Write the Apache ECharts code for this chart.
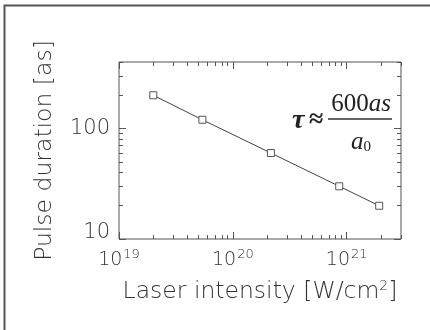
<!DOCTYPE html>
<html>
<head>
<meta charset="utf-8">
<script src="https://cdn.jsdelivr.net/npm/echarts@6/dist/echarts.min.js"></script>
<style>
  html, body { margin: 0; padding: 0; background: #fff; }
  #chart { width: 430px; height: 330px; }
</style>
</head>
<body>
<div id="chart"></div>
<script>
// laser intensity [W/cm2] and pulse duration [as]
const intensity = [2.0e19, 5.4e19, 2.16e20, 8.6e20, 1.93e21]
const duration = [200, 120, 60, 30, 20]
// axis ticks
const xMajor = [1e19, 1e20, 1e21]
const yMajor = [10, 100]
const xRange = [1e19, 3e21]
const yRange = [10, 400]

// minor ticks 2..9 in every decade
const minorTicks = (range) => {
  const out = []
  for (let p = Math.floor(Math.log10(range[0])); p <= Math.ceil(Math.log10(range[1])); p++) {
    for (let m = 2; m <= 9; m++) {
      const v = m * Math.pow(10, p)
      if (v > range[0] && v <= range[1] * 1.0001) out.push(v)
    }
  }
  return out
}
const xMinor = minorTicks(xRange)
const yMinor = minorTicks(yRange)

const FONT = 'DejaVu Sans'
const TXT = '#333'
const AX = '#555'

const chart = echarts.init(document.getElementById('chart'))

// 一个坐标轴 = 主刻度 + 次刻度两层
const xAxisOf = (pos, ticks, len, withLabel) => ({
  type: 'log',
  position: pos,
  min: xRange[0],
  max: xRange[1],
  axisLine: { show: false },
  splitLine: { show: false },
  axisTick: { show: true, inside: true, length: len, customValues: ticks, lineStyle: { color: AX, width: 1 } },
  axisLabel: withLabel ? {
    show: true,
    customValues: ticks,
    margin: 9,
    color: TXT,
    fontFamily: FONT,
    fontWeight: 200,
    fontSize: 19,
    formatter: (v) => '10{sup|' + Math.round(Math.log10(v)) + '}',
    rich: {
      sup: { fontSize: 13, fontFamily: FONT, fontWeight: 200, color: TXT, padding: [0, 0, 11, 1] }
    }
  } : { show: false },
  name: withLabel ? 'Laser intensity [W/cm{sup|2}]' : '',
  nameLocation: 'middle',
  nameGap: 40,
  nameTextStyle: {
    color: TXT, fontFamily: FONT, fontWeight: 200, fontSize: 23.5,
    rich: { sup: { fontSize: 14, fontFamily: FONT, fontWeight: 200, color: TXT, padding: [0, 0, 12, 0] } }
  }
})

const yAxisOf = (pos, ticks, len, withLabel) => ({
  type: 'log',
  position: pos,
  min: yRange[0],
  max: yRange[1],
  axisLine: { show: false },
  splitLine: { show: false },
  axisTick: { show: true, inside: true, length: len, customValues: ticks, lineStyle: { color: AX, width: 1 } },
  axisLabel: withLabel ? {
    show: true,
    customValues: ticks,
    margin: 9,
    color: TXT,
    fontFamily: FONT,
    fontWeight: 200,
    fontSize: 21,
    formatter: (v) => (v === 10 ? '{lo|10}' : String(v)),
    rich: {
      lo: { fontSize: 21, fontFamily: FONT, fontWeight: 200, color: TXT, padding: [0, 0, 12, 0] }
    }
  } : { show: false },
  name: withLabel ? 'Pulse duration [as]' : '',
  nameLocation: 'middle',
  nameRotate: 90,
  nameGap: 62,
  nameTextStyle: { color: TXT, fontFamily: FONT, fontWeight: 200, fontSize: 23.5 }
})

const option = {
  animation: false,
  backgroundColor: '#fff',
  grid: {
    left: 119,
    right: 29,
    top: 62,
    bottom: 91,
    show: true,
    borderColor: AX,
    borderWidth: 1
  },
  xAxis: [
    xAxisOf('bottom', xMajor, 7, true),
    xAxisOf('bottom', xMinor, 4, false),
    xAxisOf('top', xMajor, 7, false),
    xAxisOf('top', xMinor, 4, false)
  ],
  yAxis: [
    yAxisOf('left', yMajor, 7, true),
    yAxisOf('left', yMinor, 4, false),
    yAxisOf('right', yMajor, 7, false),
    yAxisOf('right', yMinor, 4, false)
  ],
  series: [
    {
      type: 'line',
      xAxisIndex: 0,
      yAxisIndex: 0,
      data: intensity.map((x, i) => [x, duration[i]]),
      symbol: 'rect',
      symbolSize: 7,
      lineStyle: { color: '#444', width: 1 },
      itemStyle: { color: '#fff', borderColor: '#555', borderWidth: 1 }
    }
  ],
  graphic: [
    // 外框
    {
      type: 'polyline',
      shape: { points: [[4.5, 340], [4.5, 5.5], [440, 5.5]] },
      style: { stroke: '#555', lineWidth: 2, fill: null }
    },
    // 公式 τ ≈ 600as / a0
    {
      type: 'text',
      x: 292, y: 121,
      style: { text: '\u03c4', font: 'italic bold 28px "Liberation Serif"', fill: '#222', verticalAlign: 'middle' }
    },
    {
      type: 'text',
      x: 309, y: 120,
      style: { text: '\u2248', font: 'bold 26px "Liberation Serif"', fill: '#222', verticalAlign: 'middle' }
    },
    {
      type: 'text',
      x: 361, y: 104,
      style: {
        text: '600{i|as}',
        font: '25px "Liberation Serif"',
        fill: '#222',
        align: 'center',
        verticalAlign: 'middle',
        rich: { i: { fontFamily: 'Liberation Serif', fontStyle: 'italic', fontSize: 25, fill: '#222' } }
      }
    },
    {
      type: 'line',
      shape: { x1: 328, y1: 119, x2: 392, y2: 119 },
      style: { stroke: '#333', lineWidth: 1.5 }
    },
    {
      type: 'text',
      x: 361, y: 142,
      style: {
        text: '{i|a}{s|0}',
        align: 'center',
        verticalAlign: 'middle',
        rich: {
          i: { fontFamily: 'Liberation Serif', fontStyle: 'italic', fontSize: 25, fill: '#222' },
          s: { fontFamily: 'Liberation Serif', fontSize: 15, fill: '#222', padding: [10, 0, 0, 0] }
        }
      }
    }
  ]
}

chart.setOption(option)
</script>
</body>
</html>
